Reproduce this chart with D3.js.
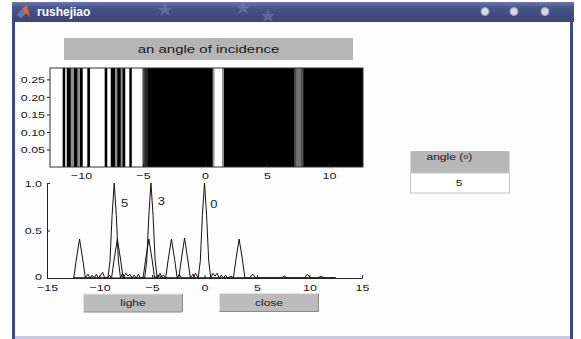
<!DOCTYPE html>
<html>
<head>
<meta charset="utf-8">
<script src="https://cdn.jsdelivr.net/npm/d3@7"></script>
<style>
  body { margin: 0; background: #ffffff; }
  svg { display: block; font-family: "Liberation Sans", Arial, sans-serif; }
</style>
</head>
<body>
<div id="chart"></div>
<script>
// image stripes (x from, x to, gray level) on a black background
var stripeFrom  = [-12.5, -11.27, -10.83, -10.3, -9.86, -9.27, -7.88, -7.26, -6.8, -6.43, -5.9, -5.02, -4.85, 0.62, 0.75, 1.38, 7.2, 7.35, 7.8];
var stripeTo    = [-11.48, -11.15, -10.56, -10.08, -9.49, -8.09, -7.6, -7.07, -6.64, -6.1, -5.02, -4.85, -4.6, 0.75, 1.38, 1.53, 7.35, 7.8, 7.95];
var stripeLevel = [1, 1, 0.55, 0.55, 1, 1, 1, 0.55, 0.55, 1, 1, 0.3, 0.15, 0.6, 1, 0.6, 0.3, 0.45, 0.3];

var imgXTicks = [-10, -5, 0, 5, 10];
var imgYTicks = [0.05, 0.10, 0.15, 0.20, 0.25];

// intensity curves, labelled by angle
var curve0 = [[-12.5,0],[-4.6,0],[-4.35,0.03],[-4.1,0],[-3.7,0],[-3.45,0.2],[-3.15,0.41],[-2.85,0.2],[-2.6,0],[-2.4,0.04],[-2.2,0],
  [-1.1,0],[-0.85,0.05],[-0.6,0],[-0.4,0.18],[-0.2,0.66],[0,1.0],[0.2,0.66],[0.4,0.18],[0.6,0],[0.8,0.05],[1.0,0.02],[1.2,0.05],
  [1.4,0],[1.6,0.03],[1.8,0],[2.0,0.03],[2.2,0],[2.75,0],[3.0,0.2],[3.3,0.41],[3.6,0.2],[3.85,0],[4.3,0],[4.6,0.04],[4.9,0],
  [7.3,0],[7.6,0.02],[7.9,0],[9.5,0],[9.8,0.04],[10.1,0],[10.8,0],[11.1,0.02],[11.4,0],[12.5,0]];
var curve3 = [[-12.5,0],[-9.3,0],[-9.05,0.03],[-8.85,0],[-8.6,0.2],[-8.3,0.41],[-8.0,0.2],[-7.75,0],[-7.5,0.05],[-7.3,0.02],
  [-7.1,0.04],[-6.9,0],[-6.7,0.03],[-6.5,0],[-6.3,0.04],[-6.1,0],[-5.7,0],[-5.5,0.18],[-5.3,0.66],[-5.1,1.0],[-4.9,0.66],
  [-4.7,0.18],[-4.5,0],[-4.25,0.05],[-4.0,0],[-2.45,0],[-2.2,0.2],[-1.9,0.42],[-1.6,0.2],[-1.35,0],[-1.1,0.04],[-0.9,0],
  [2.2,0],[2.5,0.02],[2.8,0],[12.5,0]];
var curve5 = [[-12.5,0],[-12.45,0],[-12.2,0.2],[-11.9,0.41],[-11.6,0.2],[-11.35,0],[-11.1,0.04],[-10.9,0],[-10.7,0.03],
  [-10.5,0],[-10.3,0.04],[-10.1,0],[-9.9,0.03],[-9.7,0.06],[-9.5,0],[-9.2,0],[-9.0,0.18],[-8.8,0.66],[-8.6,1.0],[-8.4,0.66],
  [-8.2,0.18],[-8.0,0],[-7.8,0.05],[-7.6,0],[-5.85,0],[-5.6,0.2],[-5.3,0.41],[-5.0,0.2],[-4.75,0],[-4.5,0.03],[-4.3,0],
  [-3.9,0.03],[-3.7,0],[12.5,0]];
var curves = [curve0, curve3, curve5];
var curveLabels = ["0", "3", "5"];
var labelX = [0.55, -4.45, -7.95];
var labelY = [0.74, 0.77, 0.75];

var plotXTicks = [-15, -10, -5, 0, 5, 10, 15];
var plotYTicks = [0, 0.5, 1.0];
var plotYLabels = ["0", "0.5", "1.0"];

var W = 581, H = 339;
var K = 0.78; // the screenshot's text is squat: squeeze glyphs vertically

var svg = d3.select("#chart").append("svg")
  .attr("width", W)
  .attr("height", H);

// squeeze a text vertically around its own anchor point
function squash(sel) {
  sel.attr("transform", function() {
    var t = d3.select(this), x = +t.attr("x") || 0, y = +t.attr("y") || 0;
    return "translate(" + x + "," + y + ") scale(1," + K + ") translate(" + (-x) + "," + (-y) + ")";
  });
}

// ---- window chrome ----
var defs = svg.append("defs");
var grad = defs.append("linearGradient").attr("id", "bar").attr("x1", 0).attr("y1", 0).attr("x2", 0).attr("y2", 1);
grad.append("stop").attr("offset", "0%").attr("stop-color", "#6a78ab");
grad.append("stop").attr("offset", "30%").attr("stop-color", "#47548a");
grad.append("stop").attr("offset", "100%").attr("stop-color", "#3a4577");

svg.append("rect").attr("x", 0).attr("y", 0).attr("width", W).attr("height", H).attr("fill", "#ffffff");
svg.append("rect").attr("x", 15).attr("y", 21).attr("width", 556).attr("height", 316).attr("fill", "#fdfdfd");
svg.append("rect").attr("x", 12).attr("y", 2).attr("width", 562).attr("height", 20).attr("fill", "url(#bar)");
svg.append("rect").attr("x", 12).attr("y", 21).attr("width", 3).attr("height", 318).attr("fill", "#3e4a85");
svg.append("rect").attr("x", 570).attr("y", 21).attr("width", 3).attr("height", 318).attr("fill", "#3e4a85");
svg.append("rect").attr("x", 15).attr("y", 336).attr("width", 555).attr("height", 3).attr("fill", "#c9cbe0");

// faint stars in the title bar
var star = "M0,-7 L2,-2 L7,-2 L3,1 L5,6 L0,3 L-5,6 L-3,1 L-7,-2 L-2,-2 Z";
[[165, 10], [243, 8], [268, 16]].forEach(function(p) {
  svg.append("path").attr("d", star)
    .attr("transform", "translate(" + p[0] + "," + p[1] + ")")
    .attr("fill", "#7f8bbb").attr("opacity", 0.45);
});

// matlab-ish icon
svg.append("path")
  .attr("d", "M17,15 L23,8 L27,5 L30,17 L26,13 L21,18 Z")
  .attr("fill", "#e8662a");
svg.append("path")
  .attr("d", "M17,15 L23,8 L24,13 L21,18 Z")
  .attr("fill", "#3f7fc8");
svg.append("text")
  .attr("x", 37).attr("y", 16)
  .attr("fill", "#ffffff")
  .style("font-size", "12px")
  .style("font-weight", "bold")
  .text("rushejiao");

[485, 514, 545].forEach(function(cx) {
  svg.append("circle").attr("cx", cx).attr("cy", 11.5).attr("r", 4)
    .attr("fill", "#d6d8e0").attr("stroke", "#9aa0b8").attr("stroke-width", 1);
});

// ---- title box ----
svg.append("rect").attr("x", 64).attr("y", 38).attr("width", 289).attr("height", 22).attr("fill", "#b5b5b5");
svg.append("text")
  .attr("x", 208.5).attr("y", 53.5)
  .attr("text-anchor", "middle")
  .attr("fill", "#1a1a1a")
  .style("font-size", "15px")
  .text("an angle of incidence")
  .call(squash);

// ---- image axes ----
var x1 = d3.scaleLinear().domain([-12.5, 12.75]).range([50, 363]);
var y1 = d3.scaleLinear().domain([0, 0.2825]).range([167, 68]);

svg.append("rect")
  .attr("x", x1(-12.5)).attr("y", y1(0.2825))
  .attr("width", x1(12.75) - x1(-12.5)).attr("height", y1(0) - y1(0.2825))
  .attr("fill", "#000000");

svg.selectAll(".stripe")
  .data(stripeFrom)
  .enter().append("rect")
  .attr("class", "stripe")
  .attr("x", function(d) { return x1(d); })
  .attr("y", y1(0.2825))
  .attr("width", function(d, i) { return x1(stripeTo[i]) - x1(d); })
  .attr("height", y1(0) - y1(0.2825))
  .attr("fill", function(d, i) { var v = Math.round(stripeLevel[i] * 255); return d3.rgb(v, v, v); });

svg.append("rect")
  .attr("x", x1(-12.5)).attr("y", y1(0.2825))
  .attr("width", x1(12.75) - x1(-12.5)).attr("height", y1(0) - y1(0.2825))
  .attr("fill", "none").attr("stroke", "#333").attr("stroke-width", 1);

var ax1 = svg.append("g")
  .attr("transform", "translate(0," + y1(0) + ")")
  .call(d3.axisBottom(x1).tickValues(imgXTicks).tickSizeInner(-3).tickSizeOuter(0).tickPadding(6.5));
var ay1 = svg.append("g")
  .attr("transform", "translate(" + x1(-12.5) + ",0)")
  .call(d3.axisLeft(y1).tickValues(imgYTicks).tickFormat(d3.format(".2f")).tickSizeInner(3).tickSizeOuter(0).tickPadding(2));
[ax1, ay1].forEach(function(g) {
  g.select(".domain").remove();
  g.selectAll("line").attr("stroke", "#222");
  g.selectAll("text").attr("fill", "#1a1a1a").style("font-size", "12.5px")
    .style("font-family", "Liberation Sans, Arial, sans-serif")
    .attr("transform", "scale(1," + K + ")");
});

// ---- intensity plot ----
var x2 = d3.scaleLinear().domain([-15, 15]).range([47, 362]);
var y2 = d3.scaleLinear().domain([0, 1]).range([278, 183]);

var line = d3.line()
  .x(function(d) { return x2(d[0]); })
  .y(function(d) { return y2(d[1]); });

svg.selectAll(".curve")
  .data(curves)
  .enter().append("path")
  .attr("class", "curve")
  .attr("d", line)
  .attr("fill", "none")
  .attr("stroke", "#111")
  .attr("stroke-width", 1);

svg.selectAll(".clabel")
  .data(curveLabels)
  .enter().append("text")
  .attr("class", "clabel")
  .attr("x", function(d, i) { return x2(labelX[i]); })
  .attr("y", function(d, i) { return y2(labelY[i]); })
  .attr("fill", "#1a1a1a")
  .style("font-size", "13px")
  .text(function(d) { return d; })
  .call(squash);

var ax2 = svg.append("g")
  .attr("transform", "translate(0," + y2(0) + ")")
  .call(d3.axisBottom(x2).tickValues(plotXTicks).tickSizeInner(-3).tickSizeOuter(0).tickPadding(7.5));
var ay2 = svg.append("g")
  .attr("transform", "translate(" + x2(-15) + ",0)")
  .call(d3.axisLeft(y2).tickValues(plotYTicks).tickFormat(function(d, i) { return plotYLabels[i]; }).tickSizeInner(-3).tickSizeOuter(0).tickPadding(5));
[ax2, ay2].forEach(function(g) {
  g.select(".domain").attr("stroke", "#222");
  g.selectAll("line").attr("stroke", "#222");
  g.selectAll("text").attr("fill", "#1a1a1a").style("font-size", "12.5px")
    .style("font-family", "Liberation Sans, Arial, sans-serif")
    .attr("transform", "scale(1," + K + ")");
});
// the "0" label sits just above the "-15" label
ay2.selectAll(".tick text").filter(function(d) { return d === 0; }).attr("dy", "0.12em");

// ---- buttons ----
function button(x, y, w, h, label) {
  svg.append("rect").attr("x", x).attr("y", y).attr("width", w).attr("height", h).attr("fill", "#bcbcbc");
  svg.append("path").attr("d", "M" + x + "," + (y + h) + " L" + x + "," + y + " L" + (x + w) + "," + y)
    .attr("fill", "none").attr("stroke", "#e4e4e4").attr("stroke-width", 1);
  svg.append("path").attr("d", "M" + x + "," + (y + h) + " L" + (x + w) + "," + (y + h) + " L" + (x + w) + "," + y)
    .attr("fill", "none").attr("stroke", "#8a8a8a").attr("stroke-width", 1);
  svg.append("text").attr("x", x + w / 2).attr("y", y + h / 2 + 3.5)
    .attr("text-anchor", "middle").attr("fill", "#1a1a1a")
    .style("font-size", "12px").text(label)
    .call(squash);
}
button(83.5, 294, 99, 18, "lighe");
button(219.5, 293.5, 99, 18, "close");

// ---- angle box ----
svg.append("rect").attr("x", 410.5).attr("y", 151).attr("width", 99).attr("height", 22).attr("fill", "#b8b8b8");
var lab = svg.append("text").attr("x", 426.5).attr("y", 160.5)
  .attr("fill", "#1a1a1a").style("font-size", "12px");
lab.append("tspan").text("angle  (");
lab.append("tspan").attr("dy", -2.5).style("font-size", "9px").text("o");
lab.append("tspan").attr("dy", 2.5).text(")");
lab.call(squash);
svg.append("rect").attr("x", 410.5).attr("y", 173).attr("width", 99).attr("height", 20)
  .attr("fill", "#ffffff").attr("stroke", "#c4c4c4");
svg.append("text").attr("x", 459).attr("y", 186.5)
  .attr("text-anchor", "middle").attr("fill", "#1a1a1a")
  .style("font-size", "12px").text("5")
  .call(squash);
</script>
</body>
</html>
